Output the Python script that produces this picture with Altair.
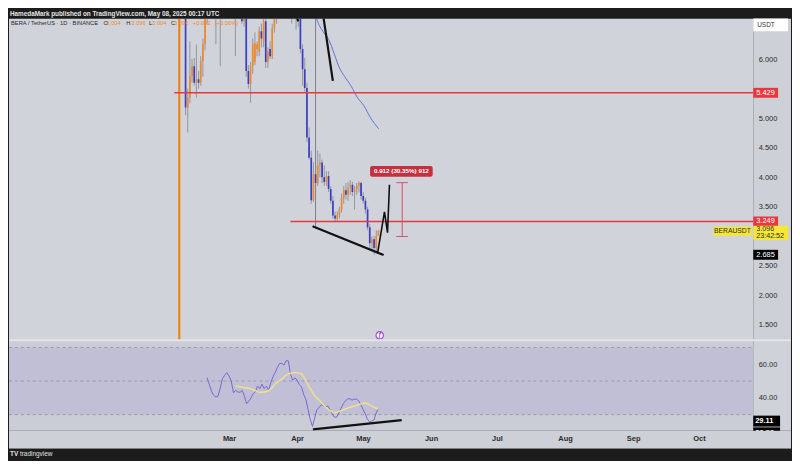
import altair as alt
import pandas as pd

# ---------------- data (days counted from 2025-03-01) ----------------
candle_day = list(range(-23, 69))
candle_open = [6.9, 8.0, 7.4, 5.18, 5.35, 5.71, 5.88, 5.6, 5.66, 5.6,
               5.97, 6.25, 6.95, 7.3, 7.1, 7.4, 7.0, 7.1, 7.45, 7.2,
               7.35, 7.5, 7.1, 7.2, 7.0, 7.15, 6.9, 7.0, 6.85, 6.64,
               6.8, 5.8, 5.58, 5.88, 5.95, 6.17, 6.13, 6.47, 6.3, 6.64,
               5.95, 6.17, 6.05, 6.52, 6.9, 7.2, 7.6, 8.0, 7.8, 7.5,
               7.6, 7.0, 6.75, 6.9, 6.8, 6.76, 6.17, 5.83, 5.51, 4.67,
               4.33, 3.61, 4.05, 3.9, 4.2, 4.25, 4.0, 3.92, 4.02, 3.8,
               3.6, 3.35, 3.3, 3.36, 3.45, 3.65, 3.78, 3.7, 3.82, 3.87,
               3.75, 3.8, 3.86, 3.9, 3.68, 3.6, 3.45, 3.15, 2.88, 2.95,
               2.8, 3.004]
candle_high = [14.8, 8.6, 7.6, 5.5, 6.3, 6.0, 6.02, 6.25, 5.8, 6.05,
               6.35, 7.1, 7.6, 7.8, 7.5, 7.7, 7.3, 7.6, 7.7, 7.6,
               7.9, 7.8, 7.4, 7.5, 7.3, 7.6, 7.2, 7.3, 7.1, 6.95,
               6.95, 5.9, 5.95, 6.35, 6.45, 6.3, 6.55, 6.6, 6.8, 6.7,
               6.2, 6.3, 6.6, 7.1, 7.4, 7.8, 8.3, 8.5, 8.2, 7.9,
               7.7, 7.2, 7.1, 7.0, 6.95, 6.9, 6.25, 6.02, 5.6, 4.84,
               4.45, 4.25, 4.2, 4.45, 4.4, 4.3, 4.2, 4.1, 4.1, 3.85,
               3.68, 3.42, 3.42, 3.5, 3.72, 3.85, 3.9, 3.92, 3.95, 3.92,
               3.85, 3.9, 3.93, 3.92, 3.75, 3.65, 3.5, 3.2, 3.0, 3.0,
               3.1, 3.096]
candle_low = [6.8, 6.9, 5.05, 4.76, 5.25, 5.6, 5.55, 5.35, 5.5, 5.55,
              5.7, 6.15, 6.6, 6.85, 6.75, 6.8, 6.25, 6.85, 5.88, 6.9,
              7.0, 6.95, 6.75, 6.8, 6.8, 6.05, 6.7, 6.72, 6.6, 6.55,
              5.7, 5.5, 5.26, 5.75, 5.9, 6.05, 6.05, 6.2, 6.2, 5.85,
              5.85, 6.0, 6.0, 6.45, 6.6, 7.0, 7.4, 7.6, 7.3, 7.1,
              6.9, 6.6, 6.7, 6.5, 6.55, 6.1, 5.55, 5.45, 4.6, 4.3,
              3.55, 3.58, 3.75, 3.85, 4.0, 3.9, 3.85, 3.85, 3.75, 3.55,
              3.3, 3.25, 3.26, 3.3, 3.4, 3.55, 3.62, 3.6, 3.7, 3.68,
              3.45, 3.7, 3.74, 3.62, 3.55, 3.38, 3.1, 2.8, 2.75, 2.685,
              2.75, 3.004]
candle_close = [8.0, 7.4, 5.18, 5.35, 5.71, 5.88, 5.6, 5.66, 5.6, 5.97,
                6.25, 6.95, 7.3, 7.1, 7.4, 7.0, 7.1, 7.45, 7.2, 7.35,
                7.5, 7.1, 7.2, 7.0, 7.15, 6.9, 7.0, 6.85, 6.64, 6.8,
                5.8, 5.58, 5.88, 6.25, 6.27, 6.25, 6.47, 6.35, 6.64, 5.95,
                6.13, 6.05, 6.52, 6.9, 7.2, 7.6, 8.0, 7.8, 7.5, 7.6,
                7.0, 6.75, 6.9, 6.8, 6.76, 6.17, 5.83, 5.51, 4.67, 4.33,
                3.61, 4.05, 3.9, 4.2, 4.25, 4.0, 3.92, 4.02, 3.8, 3.6,
                3.35, 3.3, 3.36, 3.45, 3.65, 3.78, 3.7, 3.82, 3.87, 3.75,
                3.8, 3.86, 3.9, 3.68, 3.6, 3.45, 3.15, 2.88, 2.95, 2.8,
                3.004, 3.096]

rsi_day = list(range(-10, 69))
rsi_value = [52, 48, 44, 41.5, 40.5, 41, 46, 51.5, 53.5, 55,
             53, 50, 43, 44.5, 43.5, 43.3, 44.5, 41, 36.5, 38,
             40, 42.5, 43.6, 47, 45.5, 48.2, 45.5, 47, 44.5, 49,
             52.5, 55, 58, 60.5, 60.5, 59.5, 62.2, 62, 54, 50.5,
             52, 50.5, 48, 46.5, 42, 39, 33, 27, 23, 28,
             33, 34.2, 35.8, 35.5, 34.5, 35.2, 33, 30.5, 28.5, 28.5,
             31, 33.8, 36.5, 38.2, 39.2, 39.6, 38.6, 39.2, 39.3, 38.3,
             36, 33.2, 30.5, 27.3, 25.7, 26.2, 26.8, 31, 33.8]

rsi_ma_day = [3, 6, 9, 12, 14, 17, 19, 21, 24, 26, 28, 30, 33, 35, 37, 39,
              42, 44, 46, 48, 51, 53, 55, 58, 60, 62, 64, 66, 68]
rsi_ma_value = [47.2, 46.3, 45.7, 44.3, 43.3, 43.6, 45.3, 48.2, 51.2, 53.6,
                54.7, 55.1, 54.1, 50.2, 45.3, 41.3, 37.4, 34.4, 32.4, 31.1,
                32.4, 33.4, 34.4, 35.4, 36.4, 37.0, 35.8, 34.4, 33.4]

ma_day = [38.6, 39.1, 42.4, 45.1, 47.7, 50.0, 52.3, 55.3, 58.3, 61.3, 64.3, 68.1]
ma_price = [6.9, 6.75, 6.47, 6.33, 6.08, 5.85, 5.71, 5.55, 5.35, 5.21, 5.01, 4.82]

month_day = [0, 31, 61, 92, 122, 153, 184, 214]
month_label = ["Mar", "Apr", "May", "Jun", "Jul", "Aug", "Sep", "Oct"]

price_ticks = [1.5, 2.0, 2.5, 3.5, 4.0, 4.5, 5.0, 6.0]
rsi_ticks = [40, 60]

level_price = [5.429, 3.249]
level_start = [-26.2, 27.4]

listing_day = -23.9
marker_day = 39.0
marker_top, marker_bottom = 6.9, 3.17

line_top_day = [42.4, 46.97]
line_top_price = [6.77, 5.63]
wedge_day = [29.6, 31.0]
wedge_price = [6.8, 6.64]
trend_low_day = [37.6, 70.4]
trend_low_price = [3.17, 2.68]
zigzag_day = [67.6, 70.8, 72.2, 73.1]
zigzag_price = [2.71, 3.41, 3.06, 3.87]
rsi_trend_day = [38.2, 78.6]
rsi_trend_value = [21.2, 26.7]

measure_day = 79.0
measure_cap = [76.2, 81.6]
measure_low, measure_high = 2.995, 3.907
measure_text = "0.912 (30.35%) 912"
measure_label_day, measure_label_price = 78.6, 4.098

last_price = 3.096
low_price = 2.685
rsi_last = 29.11
rsi_ma_last = 26.26
icon_day, icon_price = 68.6, 1.32

# ---------------- layout ----------------
W, H1, H2, AX = 749, 324, 91, 38
FONT = "Liberation Sans"
ORANGE = "#f0892a"
BLUE = "#3b3fbf"
RED = "#e8383d"
DARK = "#1c1c1c"
TXT = "#2b2b2b"

xs = alt.Scale(domain=[-100.2, 238.7], nice=False, zero=False)
ps = alt.Scale(domain=[1.2357, 6.690], nice=False, zero=False)
rs = alt.Scale(domain=[20.41, 74.26], nice=False, zero=False)

price_axis = alt.Axis(orient="right", values=price_ticks, format=".3f", labelPadding=5,
                      labelFontSize=7.5, labelFont=FONT, labelColor=TXT, domain=False,
                      ticks=False, grid=False, title=None, zindex=1)
rsi_axis = alt.Axis(orient="right", values=rsi_ticks, format=".2f", labelPadding=5,
                    labelFontSize=7.5, labelFont=FONT, labelColor=TXT, domain=False,
                    ticks=False, grid=False, title=None, zindex=1)
month_expr = ("[" + ",".join(f"'{m}'" for m in month_label) + "][indexof(["
              + ",".join(str(v) for v in month_day) + "], datum.value)]")
time_axis = alt.Axis(orient="bottom", values=month_day, labelExpr=month_expr,
                     labelFontSize=7.5, labelFont=FONT, labelFontWeight="bold", labelColor=TXT,
                     labelPadding=4, domain=False, ticks=False, grid=False, title=None, zindex=1)

one = pd.DataFrame({"k": [0]})

dfc = pd.DataFrame({"d": candle_day, "open": candle_open, "high": candle_high,
                    "low": candle_low, "close": candle_close})
dfc["dir"] = ["up" if c >= o else "down" for o, c in zip(candle_open, candle_close)]


def X(field="d"):
    return alt.X(f"{field}:Q", scale=xs, axis=None)


def XR(field="d"):
    return alt.X(f"{field}:Q", scale=xs, axis=time_axis)


def PY(field):
    return alt.Y(f"{field}:Q", scale=ps, axis=price_axis)


def RY(field):
    return alt.Y(f"{field}:Q", scale=rs, axis=rsi_axis)


def lines_df(groups):
    rows = []
    for g, (ds, vs) in enumerate(groups):
        for i, (d, v) in enumerate(zip(ds, vs)):
            rows.append({"g": g, "i": i, "d": d, "v": v})
    return pd.DataFrame(rows)


def txt(text, x, y, size=7.5, color=TXT, align="left", weight="normal", baseline="middle"):
    return alt.Chart(one).mark_text(text=text, fontSize=size, font=FONT, color=color,
                                    align=align, baseline=baseline, fontWeight=weight).encode(
        x=alt.value(x), y=alt.value(y))


def box(x0, x1, y0, y1, color):
    return alt.Chart(one).mark_rect(color=color).encode(
        x=alt.value(x0), x2=alt.value(x1), y=alt.value(y0), y2=alt.value(y1))


# ---------------- price pane ----------------
orange_v = alt.Chart(pd.DataFrame({"d": [listing_day]})).mark_rule(
    color="#f57c00", strokeWidth=2).encode(x=X())

levels = alt.Chart(pd.DataFrame({"d": level_start, "p": level_price})).mark_rule(
    color=RED, strokeWidth=1.4).encode(x=X(), x2=alt.value(W), y=PY("p"))

gray_v = alt.Chart(pd.DataFrame({"d": [marker_day], "a": [marker_top], "b": [marker_bottom]})).mark_rule(
    color="#7d7f86", strokeWidth=1, clip=True).encode(x=X(), y=PY("a"), y2="b:Q")

ma_line = alt.Chart(pd.DataFrame({"d": ma_day, "p": ma_price})).mark_line(
    color="#5466d6", strokeWidth=0.9, interpolate="monotone", clip=True).encode(x=X(), y=PY("p"))

wicks = alt.Chart(dfc).mark_rule(color="#85878e", strokeWidth=0.8, clip=True).encode(
    x=X(), y=PY("low"), y2="high:Q")

bodies = alt.Chart(dfc).mark_bar(size=1.7, clip=True).encode(
    x=X(), y=PY("open"), y2="close:Q",
    color=alt.Color("dir:N", scale=alt.Scale(domain=["up", "down"], range=[ORANGE, BLUE]), legend=None))

black_lines = alt.Chart(lines_df([(line_top_day, line_top_price),
                                  (wedge_day, wedge_price),
                                  (trend_low_day, trend_low_price)])).mark_line(
    color="#111111", strokeWidth=2.2, clip=True).encode(
    x=X(), y=PY("v"), detail="g:N", order="i:Q")

zigzag = alt.Chart(lines_df([(zigzag_day, zigzag_price)])).mark_line(
    color="#111111", strokeWidth=1.6, clip=True).encode(x=X(), y=PY("v"), order="i:Q")

m_v = alt.Chart(pd.DataFrame({"d": [measure_day], "a": [measure_low], "b": [measure_high]})).mark_rule(
    color="#d9506a", strokeWidth=1).encode(x=X(), y=PY("a"), y2="b:Q")
m_caps = alt.Chart(pd.DataFrame({"d": [measure_cap[0]] * 2, "e": [measure_cap[1]] * 2,
                                 "p": [measure_low, measure_high]})).mark_rule(
    color="#d9506a", strokeWidth=1).encode(x=X(), x2="e:Q", y=PY("p"))
m_box = alt.Chart(pd.DataFrame({"d": [measure_label_day], "p": [measure_label_price]})).mark_tick(
    orient="horizontal", size=63, thickness=11, color="#c62f3e", opacity=1, cornerRadius=2).encode(
    x=X(), y=PY("p"))
m_txt = alt.Chart(pd.DataFrame({"d": [measure_label_day], "p": [measure_label_price]})).mark_text(
    text=measure_text, fontSize=6.3, font=FONT, color="white", fontWeight="bold").encode(x=X(), y=PY("p"))

icon = alt.Chart(pd.DataFrame({"d": [icon_day], "p": [icon_price]})).mark_point(
    shape="circle", size=55, filled=True, fill="white", stroke="#9c4dcc", strokeWidth=1.2, opacity=1).encode(
    x=X(), y=PY("p"))
icon_t = alt.Chart(pd.DataFrame({"d": [icon_day], "p": [icon_price]})).mark_text(
    text="ƒ", fontSize=7, font=FONT, color="#9c4dcc", fontStyle="italic", fontWeight="bold").encode(
    x=X(), y=PY("p"))

axis_strip = box(W, W + AX, 0, H1, "#cdd0d7")
header_band = box(0, W + AX, -9, 0, DARK)
header_txt = txt("HamedaMark published on TradingView.com, May 08, 2025 00:17 UTC", 1, -4.3,
                 size=6.4, color="#e6e6e6", weight="bold")

legend_parts = [(2, "BERA / TetherUS · 1D · BINANCE", TXT), (95, "O", TXT), (98, "3.004", ORANGE),
                (118, "H", TXT), (123, "3.096", ORANGE), (141, "L", TXT), (144, "3.004", ORANGE),
                (163, "C", TXT), (166, "3.096", ORANGE), (185, "+0.092", ORANGE), (207, "(+3.06%)", ORANGE)]
legend_layers = [txt(t, x, 5, size=5.8, color=c) for x, t, c in legend_parts]

usdt_box = box(W, W + 35, 0, 13, "#ffffff")
usdt_txt = txt("USDT", W + 4, 6.5, size=6.5, color="#333333")


def price_tag(value, label, fill, tcolor, width=25, yoff=0, thick=10):
    d = pd.DataFrame({"p": [value]})
    b = alt.Chart(d).mark_tick(orient="horizontal", size=width, thickness=thick, color=fill,
                               opacity=1, yOffset=yoff).encode(x=alt.value(W + width / 2), y=PY("p"))
    t = alt.Chart(d).mark_text(text=label, fontSize=7.5, font=FONT, color=tcolor, align="left",
                               yOffset=yoff).encode(x=alt.value(W + 3), y=PY("p"))
    return [b, t]


tags = []
tags += price_tag(level_price[0], "5.429", RED, "white")
tags += price_tag(level_price[1], "3.249", RED, "white")
lp = pd.DataFrame({"p": [last_price]})
tags.append(alt.Chart(lp).mark_tick(orient="horizontal", size=35, thickness=14, color="#f7e733",
                                    opacity=1, yOffset=2.3).encode(x=alt.value(W + 17.5), y=PY("p")))
tags.append(alt.Chart(lp).mark_text(text="3.096", fontSize=7.2, font=FONT, color=TXT, align="left",
                                    yOffset=-1.5).encode(x=alt.value(W + 3), y=PY("p")))
tags.append(alt.Chart(lp).mark_text(text="23:42:52", fontSize=7.2, font=FONT, color=TXT, align="left",
                                    yOffset=6).encode(x=alt.value(W + 3), y=PY("p")))
tags.append(alt.Chart(lp).mark_tick(orient="horizontal", size=38, thickness=9, color="#f7e733",
                                    opacity=1, yOffset=0.7).encode(x=alt.value(W - 21), y=PY("p")))
tags.append(alt.Chart(lp).mark_text(text="BERAUSDT", fontSize=6.8, font=FONT, color=TXT, align="center",
                                    yOffset=0.7).encode(x=alt.value(W - 21), y=PY("p")))
tags += price_tag(low_price, "2.685", "#000000", "white")

price = alt.layer(
    orange_v, gray_v, ma_line, wicks, bodies, levels, black_lines, zigzag,
    m_v, m_caps, m_box, m_txt, axis_strip, header_band, header_txt, *legend_layers,
    usdt_box, usdt_txt, *tags, icon, icon_t
).properties(width=W, height=H1, view=alt.ViewBackground(fill="#d0d3da", stroke=None))

# ---------------- RSI pane ----------------
band = alt.Chart(pd.DataFrame({"a": [70], "b": [30]})).mark_rect(color="#c1bfd6").encode(
    x=alt.value(0), x2=alt.value(W), y=RY("a"), y2="b:Q")
dashes = alt.Chart(pd.DataFrame({"v": [70, 50, 30]})).mark_rule(
    color="#8e90a4", strokeWidth=0.8, strokeDash=[3, 3]).encode(
    x=alt.value(0), x2=alt.value(W), y=RY("v"))

rsi_line = alt.Chart(pd.DataFrame({"d": rsi_day, "v": rsi_value})).mark_line(
    color="#7a66d0", strokeWidth=1).encode(x=XR(), y=RY("v"))

rsi_ma = alt.Chart(pd.DataFrame({"d": rsi_ma_day, "v": rsi_ma_value})).mark_line(
    color="#efe08c", strokeWidth=1.5, interpolate="monotone").encode(x=XR(), y=RY("v"))

rsi_trend = alt.Chart(lines_df([(rsi_trend_day, rsi_trend_value)])).mark_line(
    color="#111111", strokeWidth=2.2).encode(x=XR(), y=RY("v"), order="i:Q")

r_strip = box(W, W + AX, 0, H2, "#d0d2da")


def rsi_tag(value, label, yoff):
    d = pd.DataFrame({"v": [value]})
    b = alt.Chart(d).mark_tick(orient="horizontal", size=27, thickness=11, color="#000000",
                               opacity=1, yOffset=yoff).encode(x=alt.value(W + 13.5), y=RY("v"))
    t = alt.Chart(d).mark_text(text=label, fontSize=7.5, font=FONT, color="white", align="left",
                               fontWeight="bold", yOffset=yoff).encode(x=alt.value(W + 2), y=RY("v"))
    return [b, t]


r_tags = rsi_tag(rsi_ma_last, "26.26", 12) + rsi_tag(rsi_last, "29.11", 5)

x_strip = box(0, W + AX, H2, H2 + 18, "#cdd0d7")
footer_band = box(0, W + AX, H2 + 18, H2 + 29, DARK)
footer_logo = txt("TV", 1, H2 + 23.5, size=6.5, color="#e0e0e0", weight="bold")
footer_txt = txt("tradingview", 11, H2 + 23.5, size=6.5, color="#e0e0e0")
sep = alt.Chart(one).mark_rule(color="#e2e4ea", strokeWidth=2).encode(
    x=alt.value(0), x2=alt.value(W + AX), y=alt.value(0))

rsi = alt.layer(
    band, dashes, rsi_line, rsi_ma, rsi_trend, r_strip, *r_tags, x_strip,
    footer_band, footer_logo, footer_txt, sep
).properties(width=W, height=H2, view=alt.ViewBackground(fill="#cbcdd6", stroke=None))

chart = alt.vconcat(price, rsi, spacing=0, bounds="flush").properties(
    background=DARK, padding=0
).configure_view(stroke=None)

chart.save("out.html", embed_options={"renderer": "svg", "actions": False})
